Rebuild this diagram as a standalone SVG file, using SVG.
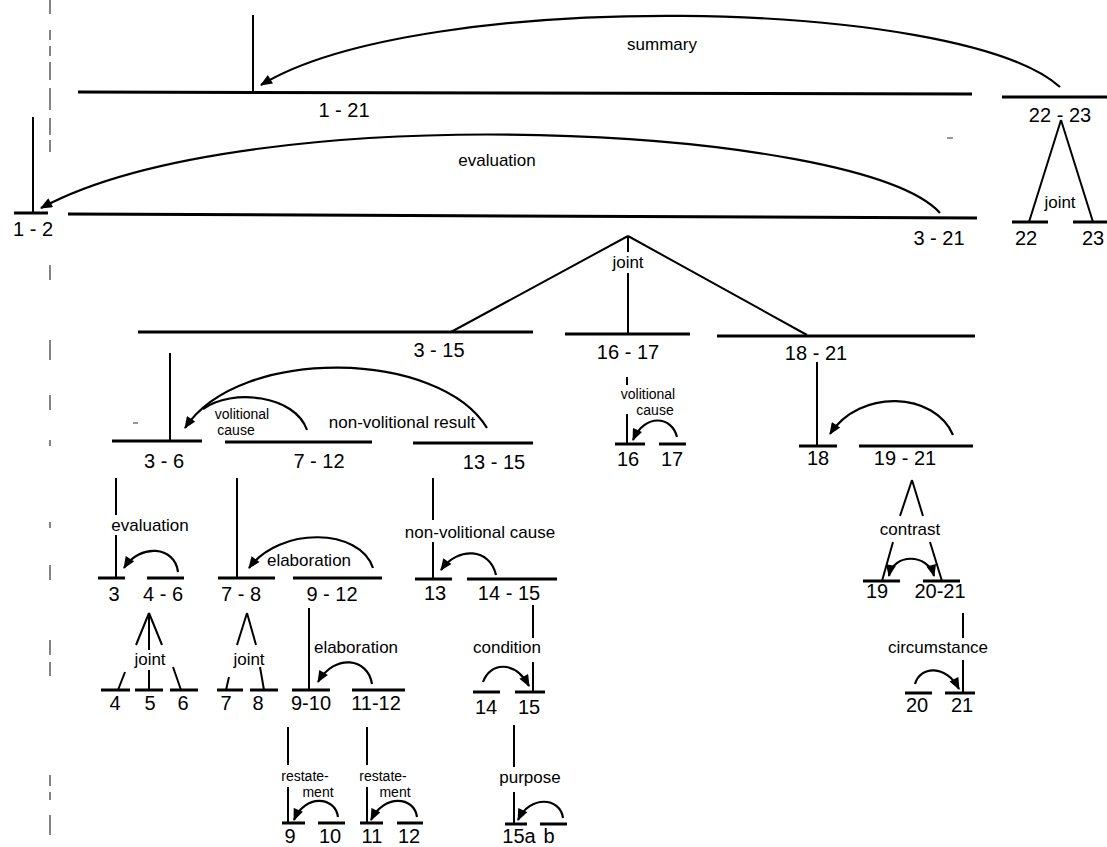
<svg xmlns="http://www.w3.org/2000/svg" width="1107" height="847" viewBox="0 0 1107 847">
<style>
.span{stroke:#000;stroke-width:3;fill:none}
.v{stroke:#000;stroke-width:2;fill:none}
.arc{stroke:#000;stroke-width:2.2;fill:none}
.num{font-family:"Liberation Sans",Arial,sans-serif;font-size:20px;fill:#000;text-anchor:middle}
.rel{font-family:"Liberation Sans",Arial,sans-serif;font-size:17px;fill:#000;text-anchor:middle}
.rel2{font-family:"Liberation Sans",Arial,sans-serif;font-size:14px;fill:#000;text-anchor:middle}
.noise{stroke:#333;stroke-width:1.2;fill:none}
</style>
<defs>
<marker id="ah" viewBox="0 0 12 10" refX="11" refY="5" markerWidth="13" markerHeight="10" markerUnits="userSpaceOnUse" orient="auto-start-reverse">
<path d="M0,0 L12,5 L0,10 z" fill="#000"/>
</marker>
</defs>
<rect width="1107" height="847" fill="#fff"/>

<g id="margin-marks">
<path class="noise" d="M50,0 V14 M50,30 V40 M50,46 V56 M50,62 V80 M50,88 V110 M50,118 V135 M50,140 V152 M50,265 V280 M50,340 V360 M50,395 V410 M50,440 V446 M50,522 V528 M50,565 V580 M50,640 V655 M50,662 V676 M50,775 V786 M50,792 V800 M50,815 V835"/>
<path class="noise" d="M947,138 H953 M133,423 H138"/>
</g>

<g id="n1-21"><line class="span" x1="78" y1="92" x2="972" y2="94"/><text class="num" x="344" y="117">1 - 21</text></g>
<g id="n22-23"><line class="span" x1="1002" y1="97" x2="1107" y2="97"/><text class="num" x="1060" y="122">22 - 23</text></g>
<g id="n1-2"><line class="span" x1="14" y1="213" x2="48" y2="213"/><text class="num" x="33" y="236">1 - 2</text></g>
<g id="n3-21"><line class="span" x1="68" y1="214" x2="977" y2="218"/><text class="num" x="939" y="245">3 - 21</text></g>
<g id="n22"><line class="span" x1="1012" y1="222" x2="1048" y2="222"/><text class="num" x="1026" y="245">22</text></g>
<g id="n23"><line class="span" x1="1073" y1="222" x2="1107" y2="222"/><text class="num" x="1093" y="245">23</text></g>

<g id="n3-15"><line class="span" x1="138" y1="332" x2="533" y2="332"/><text class="num" x="439" y="357">3 - 15</text></g>
<g id="n16-17"><line class="span" x1="565" y1="334" x2="690" y2="334"/><text class="num" x="628" y="359">16 - 17</text></g>
<g id="n18-21"><line class="span" x1="717" y1="336" x2="975" y2="336"/><text class="num" x="816" y="360">18 - 21</text></g>

<g id="n3-6"><line class="span" x1="112" y1="441" x2="202" y2="441"/><text class="num" x="164" y="468">3 - 6</text></g>
<g id="n7-12"><line class="span" x1="225" y1="442" x2="372" y2="442"/><text class="num" x="319" y="468">7 - 12</text></g>
<g id="n13-15"><line class="span" x1="413" y1="443" x2="533" y2="443"/><text class="num" x="494" y="469">13 - 15</text></g>
<g id="n16"><line class="span" x1="615" y1="444" x2="645" y2="444"/><text class="num" x="628" y="466">16</text></g>
<g id="n17"><line class="span" x1="659" y1="444" x2="686" y2="444"/><text class="num" x="672" y="466">17</text></g>
<g id="n18"><line class="span" x1="799" y1="446" x2="837" y2="446"/><text class="num" x="818" y="465">18</text></g>
<g id="n19-21"><line class="span" x1="859" y1="446" x2="973" y2="446"/><text class="num" x="905" y="465">19 - 21</text></g>

<g id="n3"><line class="span" x1="98" y1="578" x2="125" y2="578"/><text class="num" x="114" y="601">3</text></g>
<g id="n4-6"><line class="span" x1="147" y1="578" x2="184" y2="578"/><text class="num" x="163" y="601">4 - 6</text></g>
<g id="n7-8"><line class="span" x1="218" y1="578" x2="275" y2="578"/><text class="num" x="241" y="601">7 - 8</text></g>
<g id="n9-12"><line class="span" x1="293" y1="578" x2="382" y2="578"/><text class="num" x="332" y="601">9 - 12</text></g>
<g id="n13"><line class="span" x1="415" y1="579" x2="452" y2="579"/><text class="num" x="435" y="600">13</text></g>
<g id="n14-15"><line class="span" x1="467" y1="579" x2="557" y2="579"/><text class="num" x="509" y="600">14 - 15</text></g>
<g id="n19"><line class="span" x1="863" y1="581" x2="900" y2="581"/><text class="num" x="877" y="598">19</text></g>
<g id="n20-21"><line class="span" x1="923" y1="581" x2="960" y2="581"/><text class="num" x="940" y="598">20-21</text></g>

<g id="n4"><line class="span" x1="101" y1="690" x2="130" y2="690"/><text class="num" x="115" y="710">4</text></g>
<g id="n5"><line class="span" x1="135" y1="690" x2="163" y2="690"/><text class="num" x="150" y="710">5</text></g>
<g id="n6"><line class="span" x1="170" y1="690" x2="198" y2="690"/><text class="num" x="183" y="710">6</text></g>
<g id="n7"><line class="span" x1="217" y1="690" x2="243" y2="690"/><text class="num" x="226" y="710">7</text></g>
<g id="n8"><line class="span" x1="250" y1="690" x2="278" y2="690"/><text class="num" x="258" y="710">8</text></g>
<g id="n9-10"><line class="span" x1="292" y1="690" x2="330" y2="690"/><text class="num" x="311" y="710">9-10</text></g>
<g id="n11-12"><line class="span" x1="352" y1="690" x2="405" y2="690"/><text class="num" x="376" y="710">11-12</text></g>
<g id="n14"><line class="span" x1="473" y1="692" x2="500" y2="692"/><text class="num" x="486" y="714">14</text></g>
<g id="n15"><line class="span" x1="515" y1="692" x2="545" y2="692"/><text class="num" x="529" y="714">15</text></g>
<g id="n20"><line class="span" x1="905" y1="693" x2="932" y2="693"/><text class="num" x="917" y="712">20</text></g>
<g id="n21"><line class="span" x1="945" y1="693" x2="975" y2="693"/><text class="num" x="962" y="712">21</text></g>

<g id="n9"><line class="span" x1="282" y1="823" x2="305" y2="823"/><text class="num" x="290" y="843">9</text></g>
<g id="n10"><line class="span" x1="318" y1="823" x2="345" y2="823"/><text class="num" x="330" y="843">10</text></g>
<g id="n11"><line class="span" x1="360" y1="823" x2="383" y2="823"/><text class="num" x="372" y="843">11</text></g>
<g id="n12"><line class="span" x1="397" y1="823" x2="423" y2="823"/><text class="num" x="409" y="843">12</text></g>
<g id="n15a"><line class="span" x1="505" y1="824" x2="527" y2="824"/><text class="num" x="519" y="843">15a</text></g>
<g id="n15b"><line class="span" x1="540" y1="824" x2="567" y2="824"/><text class="num" x="549" y="843">b</text></g>

<g id="connectors">
<path class="v" d="M253,15 V92 M33,117 V213 M170,353 V441 M627,377 V385 M627,414 V444 M817,362 V446 M116,478 V515 M116,535 V578 M237,478 V578 M433,478 V520 M433,542 V579 M309,608 V690 M533,605 V638 M533,662 V692 M963,613 V638 M963,660 V693 M288,727 V765 M288,787 V823 M367,727 V765 M367,787 V823 M514,725 V767 M514,792 V824"/>
<path class="v" d="M1061,120 L1029,222 M1061,120 L1093,222"/>
<path class="v" d="M628,236 L451,332 M628,236 L807,335 M628,236 V252 M628,273 V333"/>
<path class="v" d="M149,613 L136,645 M125,672 L118,690 M149,613 V650 M149,670 V690 M149,613 L162,645 M173,667 L181,690"/>
<path class="v" d="M247,613 L237,645 M229,677 L226,690 M247,613 L256,645 M260,667 L264,690"/>
<path class="v" d="M912,480 L900,516 M893,542 L882,581 M912,480 L923,516 M930,542 L942,581"/>
<path class="arc" marker-end="url(#ah)" d="M1060,87 C960,-3 420,-12 261,85"/>
<path class="arc" marker-end="url(#ah)" d="M940,213 C860,125 250,95 41,208"/>
<path class="arc" marker-end="url(#ah)" d="M487,428 C440,350 240,345 185,428"/>
<path class="arc" d="M307,430 C295,395 232,388 203,409"/>
<path class="arc" marker-end="url(#ah)" d="M677,437 C672,416 645,413 633,440"/>
<path class="arc" marker-end="url(#ah)" d="M953,435 C935,392 860,388 830,434"/>
<path class="arc" marker-end="url(#ah)" d="M178,572 C175,546 140,543 124,568"/>
<path class="arc" marker-end="url(#ah)" d="M373,568 C360,528 280,526 249,568"/>
<path class="arc" marker-end="url(#ah)" d="M372,684 C368,658 335,653 318,682"/>
<path class="arc" marker-end="url(#ah)" d="M496,575 C490,548 458,546 441,570"/>
<path class="arc" marker-end="url(#ah)" d="M483,682 C490,662 515,660 529,686"/>
<path class="arc" marker-start="url(#ah)" marker-end="url(#ah)" d="M889,576 C893,553 928,553 934,576"/>
<path class="arc" marker-end="url(#ah)" d="M915,684 C920,666 946,664 959,689"/>
<path class="arc" marker-end="url(#ah)" d="M338,817 C335,796 305,794 294,820"/>
<path class="arc" marker-end="url(#ah)" d="M417,817 C414,796 384,794 371,820"/>
<path class="arc" marker-end="url(#ah)" d="M563,818 C560,797 530,795 518,820"/>
<text class="rel" x="662" y="50">summary</text>
<text class="rel" x="497" y="166">evaluation</text>
<text class="rel" x="1060" y="208">joint</text>
<text class="rel" x="628" y="268">joint</text>
<text class="rel2" x="242" y="419">volitional</text>
<text class="rel2" x="236" y="435">cause</text>
<text class="rel" x="402" y="428">non-volitional result</text>
<text class="rel2" x="648" y="399">volitional</text>
<text class="rel2" x="655" y="415">cause</text>
<text class="rel" x="150" y="531">evaluation</text>
<text class="rel" x="309" y="566">elaboration</text>
<text class="rel" x="480" y="538">non-volitional cause</text>
<text class="rel" x="150" y="665">joint</text>
<text class="rel" x="249" y="665">joint</text>
<text class="rel" x="356" y="653">elaboration</text>
<text class="rel" x="507" y="653">condition</text>
<text class="rel" x="910" y="535">contrast</text>
<text class="rel" x="938" y="653">circumstance</text>
<text class="rel2" x="305" y="781">restate-</text>
<text class="rel2" x="318" y="797">ment</text>
<text class="rel2" x="383" y="781">restate-</text>
<text class="rel2" x="395" y="797">ment</text>
<text class="rel" x="530" y="783">purpose</text>
</g>
</svg>
